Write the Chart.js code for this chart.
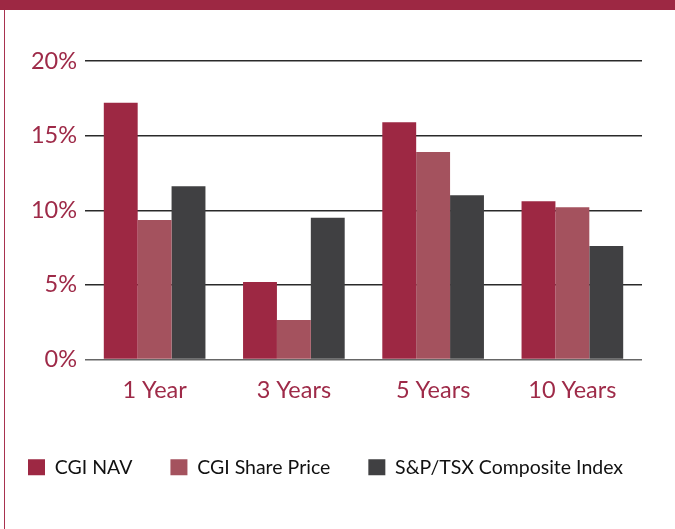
<!DOCTYPE html>
<html>
<head>
<meta charset="utf-8">
<script src="https://cdn.jsdelivr.net/npm/chart.js@4/dist/chart.umd.min.js"></script>
<style>
  body { margin: 0; background: #fff; width: 675px; height: 529px; overflow: hidden; position: relative; }
  #band { position: absolute; left: 0; top: 0; width: 675px; height: 10px; background: #9d2843; z-index: 2; }
  #edge { position: absolute; left: 4px; top: 10px; width: 1px; height: 519px; background: #a8324f; z-index: 2; }
  #chart { position: absolute; left: -10px; top: 0; }
</style>
</head>
<body>
<div id="band"></div>
<div id="edge"></div>
<canvas id="chart" width="720" height="529"></canvas>
<script>
// returns, in %
const categories = ['1 Year', '3 Years', '5 Years', '10 Years'];
const cgiNav = [17.2, 5.2, 15.9, 10.6];
const cgiSharePrice = [9.35, 2.65, 13.9, 10.2];
const spTsx = [11.6, 9.5, 11.0, 7.6];
const seriesNames = ['CGI NAV', 'CGI Share Price', 'S&P/TSX Composite Index'];

Chart.defaults.font.family = 'Lato';

var ctx = document.getElementById('chart').getContext('2d');
var returnsChart = new Chart(ctx, {
    type: 'bar',
    data: {
        labels: categories,
        datasets: [
            { label: seriesNames[0], data: cgiNav, backgroundColor: '#9d2843' },
            { label: seriesNames[1], data: cgiSharePrice, backgroundColor: '#a4525e' },
            { label: seriesNames[2], data: spTsx, backgroundColor: '#404042' }
        ]
    },
    options: {
        responsive: false,
        animation: false,
        datasets: {
            bar: { categoryPercentage: 0.73, barPercentage: 1, borderWidth: 0 }
        },
        layout: { padding: { top: 61, bottom: 42, left: 0, right: 0 } },
        plugins: {
            tooltip: { enabled: false },
            legend: {
                position: 'bottom',
                align: 'start',
                labels: {
                    boxWidth: 17,
                    boxHeight: 16,
                    padding: 38,
                    color: '#111',
                    font: { size: 19.5 }
                }
            }
        },
        scales: {
            x: {
                grid: { display: false, drawTicks: false },
                border: { display: false },
                ticks: { color: '#9e2a48', font: { size: 23.5 }, padding: 17 },
                afterFit: function (scale) { scale.height = 60; }
            },
            y: {
                min: 0,
                max: 20,
                border: { display: false },
                grid: {
                    drawTicks: false,
                    lineWidth: 1.5,
                    color: function (c) { return c.tick && c.tick.value === 0 ? '#666' : '#2a2a2a'; }
                },
                ticks: {
                    stepSize: 5,
                    color: '#9e2a48',
                    font: { size: 23.5 },
                    padding: 8,
                    callback: function (v) { return v + '%'; }
                },
                afterFit: function (scale) { scale.width = 95; }
            },
            yRight: {
                position: 'right',
                grid: { display: false, drawTicks: false },
                border: { display: false },
                ticks: { display: false },
                afterFit: function (scale) { scale.width = 68; }
            }
        }
    }
});
</script>
</body>
</html>
